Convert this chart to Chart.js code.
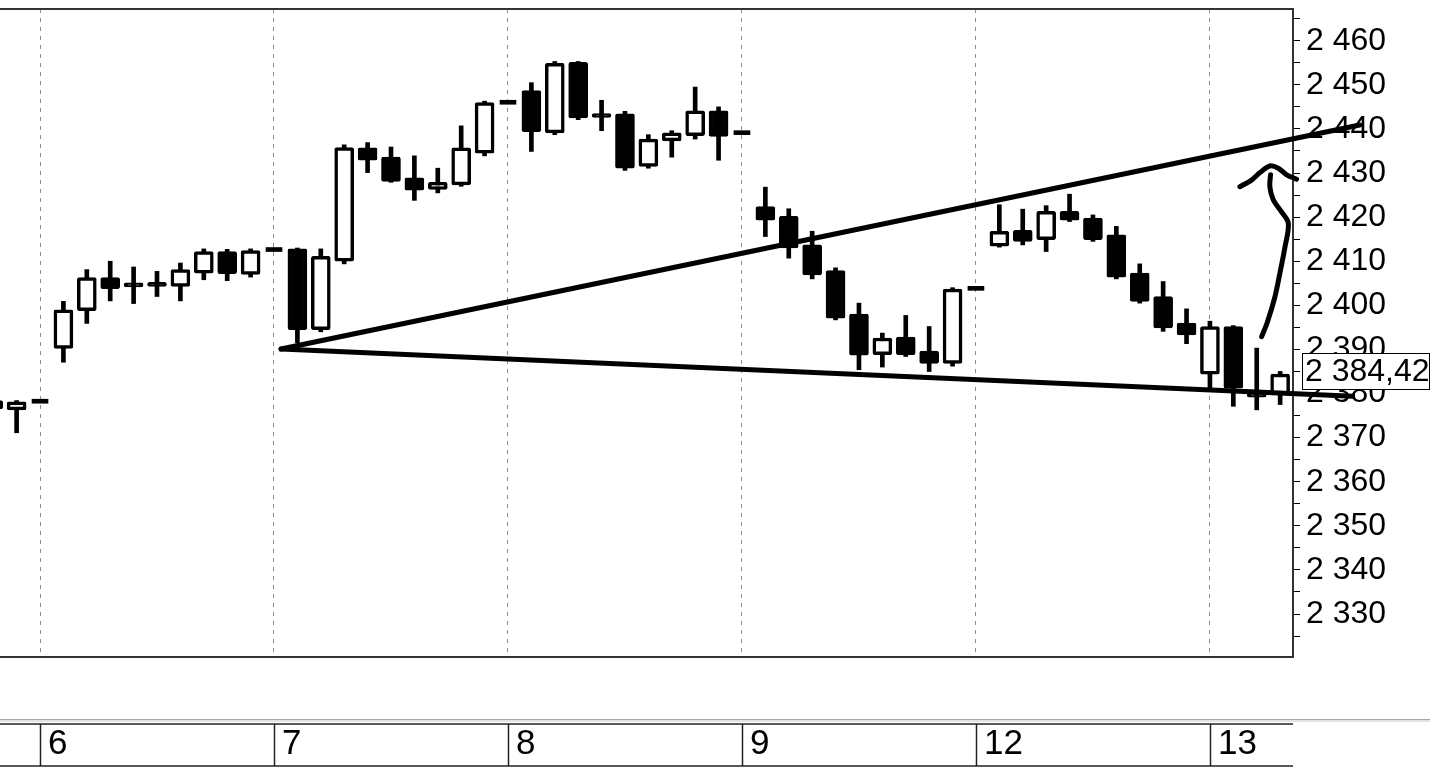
<!DOCTYPE html>
<html>
<head>
<meta charset="utf-8">
<script src="https://cdn.jsdelivr.net/npm/chart.js@4.4.1/dist/chart.umd.min.js"></script>
<style>
  html, body { margin: 0; padding: 0; background: #fff; }
</style>
</head>
<body>
<canvas id="chart" width="1430" height="769"></canvas>
<script>
// Intraday bars, 10 slots per day; slot 0 of each day sits on the day divider.
const firstSlot = -2;
const opens  = [2376.5, 2376.3, 2377.8, 2390.2, 2398.8, 2406.3, 2405.0, 2405.0, 2404.3, 2407.3, 2412.2, 2407.0,
                2412.2, 2412.8, 2394.5, 2410.0, 2435.7, 2433.6, 2428.9, 2426.3, 2427.3, 2434.5,
                2445.6, 2448.7, 2439.1, 2455.1, 2443.5, 2443.4, 2431.5, 2437.3, 2438.5, 2444.1,
                2438.7, 2422.4, 2420.2, 2413.7, 2407.9, 2398.0, 2388.8, 2392.8, 2389.6, 2386.8,
                2403.4, 2413.4, 2417.0, 2414.9, 2421.3, 2419.8, 2416.0, 2407.3, 2402.0, 2396.0,
                2384.4, 2395.2, 2380.2, 2379.7];
const highs  = [2379.3, 2378.4, 2377.8, 2400.9, 2408.1, 2410.0, 2408.7, 2407.7, 2409.6, 2412.8, 2412.7, 2412.8,
                2412.2, 2413.0, 2412.8, 2436.4, 2436.9, 2435.9, 2433.9, 2431.1, 2440.7, 2446.3,
                2445.6, 2450.5, 2455.3, 2455.3, 2446.5, 2444.0, 2438.7, 2439.6, 2449.5, 2445.0,
                2438.7, 2426.8, 2421.9, 2416.8, 2408.5, 2400.5, 2393.7, 2397.7, 2395.2, 2404.0,
                2403.4, 2422.8, 2421.8, 2422.6, 2425.2, 2420.5, 2417.9, 2409.4, 2405.4, 2399.2,
                2396.4, 2395.4, 2390.3, 2385.0];
const lows   = [2375.5, 2371.1, 2377.8, 2387.1, 2395.9, 2401.0, 2400.4, 2402.0, 2401.0, 2405.8, 2405.6, 2406.4,
                2412.2, 2391.5, 2394.0, 2409.4, 2430.1, 2427.9, 2423.8, 2425.5, 2427.0, 2433.9,
                2445.6, 2434.9, 2438.7, 2442.1, 2439.6, 2430.6, 2431.1, 2433.6, 2437.7, 2432.9,
                2438.7, 2415.6, 2410.7, 2406.0, 2396.7, 2385.4, 2386.0, 2388.4, 2385.0, 2386.2,
                2403.4, 2413.2, 2413.7, 2412.2, 2419.0, 2414.5, 2406.0, 2400.5, 2394.1, 2391.3,
                2380.5, 2377.1, 2376.3, 2377.5];
const closes = [2378.4, 2378.1, 2377.8, 2399.0, 2406.3, 2403.8, 2404.2, 2404.3, 2408.1, 2412.2, 2407.2, 2412.4,
                2412.2, 2394.5, 2411.1, 2435.8, 2432.9, 2428.1, 2426.1, 2427.9, 2435.7, 2446.0,
                2445.6, 2439.4, 2454.9, 2442.5, 2442.6, 2431.1, 2437.7, 2439.1, 2444.1, 2438.3,
                2438.7, 2419.3, 2413.0, 2406.9, 2397.1, 2388.7, 2392.6, 2388.8, 2386.8, 2403.7,
                2403.4, 2416.8, 2414.5, 2421.3, 2419.3, 2414.9, 2406.4, 2400.9, 2394.9, 2393.3,
                2395.2, 2381.2, 2379.2, 2384.42];

const dayLabels = ['6', '7', '8', '9', '12', '13'];
const daySlots = [0, 10, 20, 30, 40, 50];
const priceTicks = [2330, 2340, 2350, 2360, 2370, 2380, 2390, 2400, 2410, 2420, 2430, 2440, 2450, 2460];
const lastPrice = 2384.42;

// hand-drawn marks, in (slot, price)
const upperTrend = [[10.3, 2390.1], [56.4, 2440.9]];
const lowerTrend = [[10.3, 2390.1], [56.1, 2379.4]];
const arrowShaft = [[52.21, 2392.9], [52.45, 2396.1], [52.78, 2402.0], [52.99, 2407.3], [53.21, 2413.3],
                    [53.35, 2418.6], [53.06, 2421.2], [52.71, 2423.9], [52.56, 2426.9], [52.59, 2429.6]];
const arrowHead  = [[51.28, 2426.9], [51.78, 2428.4], [52.14, 2430.1], [52.56, 2431.6], [52.92, 2431.1],
                    [53.28, 2429.6], [53.70, 2428.6]];

const xRange = [-1.71, 53.55];
const yRange = [2320.25, 2467.2];

const fmt = v => String(v).replace(/\B(?=(\d{3})+(?!\d))/g, ' ');
const slots = opens.map((_, i) => firstSlot + i);
const idx = slots.map((_, i) => i);
const bars = idx.filter(i => highs[i] > lows[i]);
const dashes = idx.filter(i => highs[i] === lows[i]);
const pts = arr => arr.map(([x, y]) => ({ x, y }));

const FONT = "'Liberation Sans', Arial, sans-serif";

const framePlugin = {
  id: 'frame',
  beforeDatasetsDraw(chart) {
    const { ctx, chartArea: a } = chart;
    ctx.save();
    ctx.strokeStyle = '#333';
    ctx.lineWidth = 2;
    ctx.beginPath();
    ctx.moveTo(0, a.top);
    ctx.lineTo(a.right, a.top);
    ctx.lineTo(a.right, a.bottom);
    ctx.lineTo(0, a.bottom);
    ctx.stroke();
    ctx.restore();
  },
  afterDraw(chart) {
    const { ctx, chartArea: a, scales: { x } } = chart;
    const top = a.bottom + 67, bottom = a.bottom + 109;
    ctx.save();
    // splitter between panes
    ctx.fillStyle = '#a8a8a8';
    ctx.fillRect(0, a.bottom + 62, chart.width, 1);
    ctx.fillStyle = '#e2e2e2';
    ctx.fillRect(0, a.bottom + 63, chart.width, 2);
    // date strip
    ctx.strokeStyle = '#222';
    ctx.beginPath();
    ctx.moveTo(0, top); ctx.lineTo(a.right, top);
    ctx.moveTo(0, bottom); ctx.lineTo(a.right, bottom);
    daySlots.forEach(s => {
      const px = Math.round(x.getPixelForValue(s)) + 0.5;
      ctx.moveTo(px, top); ctx.lineTo(px, bottom);
    });
    ctx.lineWidth = 1.5;
    ctx.stroke();
    ctx.restore();
  }
};

const pricePlugin = {
  id: 'lastPrice',
  afterDraw(chart) {
    const { ctx, chartArea: a, scales: { y } } = chart;
    const py = y.getPixelForValue(lastPrice) - 3;
    const h = 36;
    ctx.save();
    ctx.fillStyle = '#fff';
    ctx.fillRect(a.right + 9, py - h / 2, chart.width - a.right - 9, h);
    ctx.strokeStyle = '#000';
    ctx.lineWidth = 1;
    ctx.strokeRect(a.right + 9.5, Math.round(py - h / 2) + 0.5, chart.width - a.right - 10, h);
    ctx.fillStyle = '#000';
    ctx.font = '32px ' + FONT;
    ctx.textBaseline = 'middle';
    ctx.fillText(fmt(Math.floor(lastPrice)) + ',' + lastPrice.toFixed(2).split('.')[1], a.right + 12, py + 1);
    ctx.restore();
  }
};

new Chart(document.getElementById('chart'), {
  type: 'bar',
  data: {
    datasets: [
      {
        label: 'wick',
        data: bars.map(i => ({ x: slots[i], y: [lows[i], highs[i]] })),
        backgroundColor: '#000',
        borderWidth: 0,
        barThickness: 4,
        grouped: false,
        order: 3
      },
      {
        label: 'body',
        data: bars.map(i => ({ x: slots[i], y: [opens[i], closes[i]] })),
        backgroundColor: c => (c.raw.y[1] > c.raw.y[0] ? '#fff' : '#000'),
        borderColor: '#000',
        borderWidth: 3.5,
        borderSkipped: false,
        borderRadius: 2,
        barThickness: 19,
        minBarLength: 4,
        grouped: false,
        order: 2
      },
      {
        label: 'close',
        data: dashes.map(i => ({ x: slots[i], y: [opens[i], closes[i]] })),
        backgroundColor: '#000',
        borderWidth: 0,
        barThickness: 16,
        minBarLength: 4,
        grouped: false,
        order: 2
      },
      ...[upperTrend, lowerTrend].map(t => ({
        type: 'line',
        data: pts(t),
        borderColor: '#000',
        borderWidth: 5,
        borderCapStyle: 'round',
        pointRadius: 0,
        clip: false,
        order: 0
      })),
      ...[arrowShaft, arrowHead].map(t => ({
        type: 'line',
        data: pts(t),
        borderColor: '#000',
        borderWidth: 5,
        borderCapStyle: 'round',
        borderJoinStyle: 'round',
        tension: 0.35,
        pointRadius: 0,
        clip: false,
        order: 0
      }))
    ]
  },
  options: {
    responsive: false,
    animation: false,
    layout: { padding: { top: 9, left: 0, right: 0, bottom: 0 } },
    plugins: { legend: { display: false }, tooltip: { enabled: false } },
    scales: {
      x: {
        type: 'linear',
        position: 'bottom',
        min: xRange[0],
        max: xRange[1],
        offset: false,
        afterBuildTicks: s => { s.ticks = daySlots.map(v => ({ value: v })); },
        afterFit: s => { s.height = 112; s.paddingLeft = 0; s.paddingRight = 0; },
        grid: { display: true, drawOnChartArea: true, drawTicks: false, color: '#8c8c8c', lineWidth: 1, offset: false },
        border: { display: false, dash: [4, 5] },
        ticks: {
          autoSkip: false,
          maxRotation: 0,
          align: 'start',
          labelOffset: 8,
          padding: 66,
          color: '#000',
          font: { family: FONT, size: 35 },
          callback: v => dayLabels[daySlots.indexOf(v)] || ''
        }
      },
      y: {
        type: 'linear',
        position: 'right',
        min: yRange[0],
        max: yRange[1],
        afterBuildTicks: s => {
          const vals = [];
          priceTicks.forEach(v => vals.push(v - 5, v));
          vals.push(priceTicks[priceTicks.length - 1] + 5);
          s.ticks = vals.map(v => ({ value: v }));
        },
        afterFit: s => { s.width = 137; s.paddingTop = 0; s.paddingBottom = 0; },
        grid: { drawOnChartArea: false, drawTicks: true, tickLength: 7, tickColor: '#000', tickWidth: 1 },
        border: { display: false },
        ticks: {
          autoSkip: false,
          padding: 6,
          color: '#000',
          font: { family: FONT, size: 32 },
          callback: v => (priceTicks.includes(v) ? fmt(v) : '')
        }
      }
    }
  },
  plugins: [framePlugin, pricePlugin]
});
</script>
</body>
</html>
